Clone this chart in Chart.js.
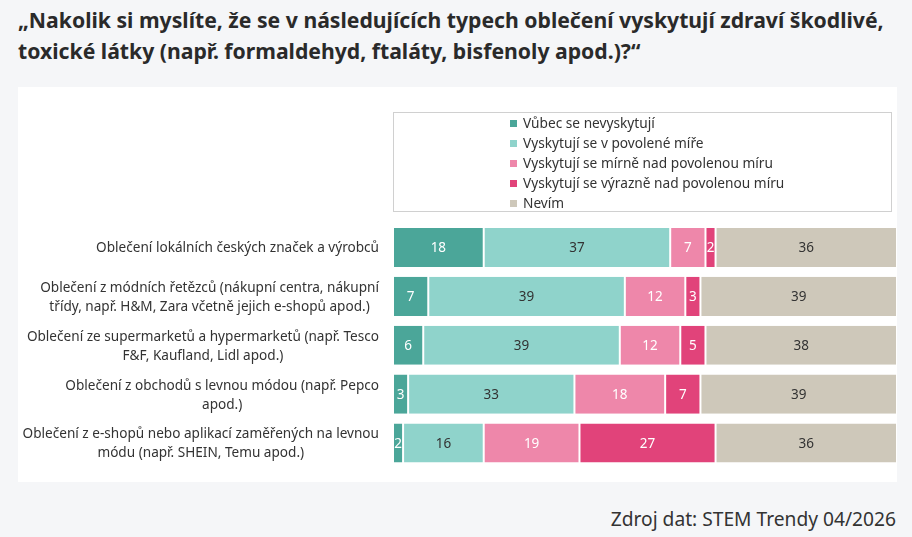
<!DOCTYPE html>
<html><head><meta charset="utf-8">
<script src="https://cdn.jsdelivr.net/npm/chart.js@4"></script>
<style>
html,body{margin:0;padding:0;background:#f5f6f8;width:912px;height:537px;overflow:hidden;font-family:"Noto Sans",sans-serif;}
#title{position:absolute;left:18px;top:4px;width:894px;font-weight:bold;font-size:21.2px;line-height:31px;color:#2a2a2a;white-space:nowrap;}
#panel{position:absolute;left:18px;top:87px;width:879px;height:395px;background:#fff;}
#legend{position:absolute;left:393px;top:112px;width:499px;height:100px;border:1px solid #d0d0d0;background:#fff;box-sizing:border-box;}
.li{position:absolute;left:116px;font-size:13.7px;color:#333;height:20px;line-height:20px;white-space:nowrap;}
.li span{display:inline-block;width:7px;height:7px;margin-right:6px;vertical-align:1px;}
#src{position:absolute;right:16px;top:505px;font-size:19.2px;color:#333;}
</style></head>
<body>
<div id="title">„Nakolik si myslíte, že se v následujících typech oblečení vyskytují zdraví škodlivé,<br>toxické látky (např. formaldehyd, ftaláty, bisfenoly apod.)?“</div>
<div id="panel"><canvas id="c" width="879" height="395"></canvas></div>
<div id="legend"></div>
<div id="src">Zdroj dat: STEM Trendy 04/2026</div>
<script>
const categories = [
  ["Oblečení lokálních českých značek a výrobců"],
  ["Oblečení z módních řetězců (nákupní centra, nákupní", "třídy, např. H&M, Zara včetně jejich e-shopů apod.)"],
  ["Oblečení ze supermarketů a hypermarketů (např. Tesco", "F&F, Kaufland, Lidl apod.)"],
  ["Oblečení z obchodů s levnou módou (např. Pepco", "apod.)"],
  ["Oblečení z e-shopů nebo aplikací zaměřených na levnou", "módu (např. SHEIN, Temu apod.)"]
];
const seriesNames = ["Vůbec se nevyskytují","Vyskytují se v povolené míře","Vyskytují se mírně nad povolenou míru","Vyskytují se výrazně nad povolenou míru","Nevím"];
const vubec = [18, 7, 6, 3, 2];
const povolene = [37, 39, 39, 33, 16];
const mirne = [7, 12, 12, 18, 19];
const vyrazne = [2, 3, 5, 7, 27];
const nevim = [36, 39, 38, 39, 36];
const colors = ["#4ba699","#8fd3cb","#ee87aa","#e1437a","#cec8ba"];
const labelColors = ["#ffffff","#333333","#ffffff","#ffffff","#333333"];
const seriesValues = [vubec, povolene, mirne, vyrazne, nevim];

// HTML legend
const lg = document.getElementById('legend');
seriesNames.forEach((n,i)=>{
  const d=document.createElement('div');d.className='li';d.style.top=(0+i*20)+'px';
  d.innerHTML='<span style="background:'+colors[i]+'"></span>'+n;lg.appendChild(d);
});

const valueLabels = {
  id:'valueLabels',
  afterDatasetsDraw(chart){
    const ctx=chart.ctx;ctx.save();
    ctx.font='13.5px "Noto Sans"';ctx.textAlign='center';ctx.textBaseline='middle';
    chart.data.datasets.forEach((ds,di)=>{
      chart.getDatasetMeta(di).data.forEach((el,i)=>{
        const v=ds.data[i];
        const x=(el.x+el.base)/2;
        ctx.fillStyle=labelColors[di];
        ctx.fillText(String(v),x,el.y+1);
      });
    });
    ctx.restore();
  }
};

// category labels: block right-aligned, lines centred within block
const catLabels = {
  id:'catLabels',
  afterDraw(chart){
    const ctx=chart.ctx, ys=chart.scales.y;ctx.save();
    ctx.font='13.6px "Noto Sans"';ctx.fillStyle='#333';ctx.textAlign='center';ctx.textBaseline='middle';
    const right=chart.chartArea.left-14, lh=19;
    chart.data.labels.forEach((lines,i)=>{
      const w=Math.max(...lines.map(l=>ctx.measureText(l).width));
      const cx=right-w/2, cy=ys.getPixelForValue(i)+1;
      lines.forEach((l,k)=>ctx.fillText(l,cx,cy+(k-(lines.length-1)/2)*lh));
    });
    ctx.restore();
  }
};

new Chart(document.getElementById('c'),{
  type:'bar',
  data:{labels:categories,datasets:seriesNames.map((n,i)=>({
    label:n,data:seriesValues[i],backgroundColor:colors[i],
    borderColor:'#ffffff',borderWidth:{left:1,right:1,top:0,bottom:0},borderSkipped:false,
    barPercentage:0.8,categoryPercentage:1
  }))},
  options:{
    indexAxis:'y',responsive:false,animation:false,
    layout:{padding:{top:136,bottom:14.5,left:0,right:0}},
    plugins:{legend:{display:false},tooltip:{enabled:false}},
    scales:{
      x:{stacked:true,min:0,max:100,display:false},
      y:{stacked:true,grid:{display:false},border:{display:false},
        ticks:{display:false},
        afterFit(s){s.width=375;}
      }
    }
  },
  plugins:[valueLabels,catLabels]
});
</script>
</body></html>
